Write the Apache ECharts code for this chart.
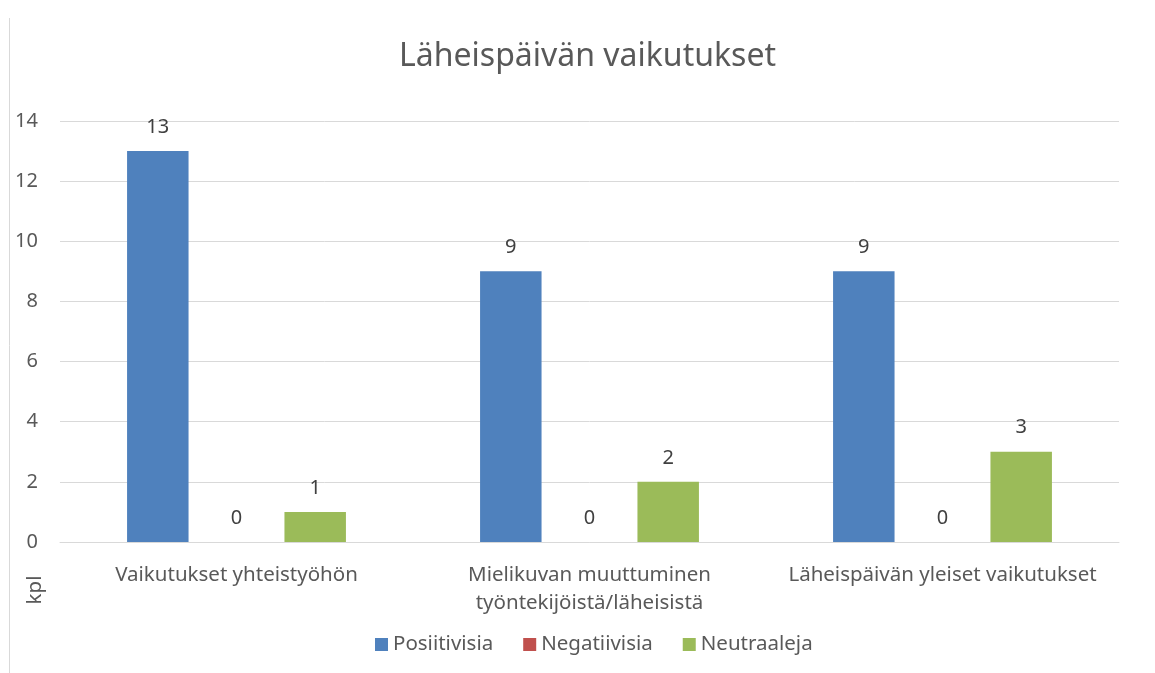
<!DOCTYPE html>
<html>
<head>
<meta charset="utf-8">
<script src="https://cdn.jsdelivr.net/npm/echarts@6/dist/echarts.min.js"></script>
<style>
  html, body { margin: 0; padding: 0; background: #fff; }
  #main { width: 1155px; height: 673px; }
</style>
</head>
<body>
<div id="main"></div>
<script>
// data
const categories = [
  'Vaikutukset yhteistyöhön',
  'Mielikuvan muuttuminen\ntyöntekijöistä/läheisistä',
  'Läheispäivän yleiset vaikutukset'
]
const positiivisia = [13, 9, 9]
const negatiivisia = [0, 0, 0]
const neutraaleja = [1, 2, 3]
const yTicks = { min: 0, max: 14, interval: 2 }

const font = '"Noto Sans", "Open Sans", sans-serif'
const label = {
  show: true,
  position: 'top',
  distance: 14,
  color: '#404040',
  fontSize: 20,
  fontFamily: font
}

const chart = echarts.init(document.getElementById('main'))
chart.setOption({
  animation: false,
  title: {
    text: 'Läheispäivän vaikutukset',
    left: 394,
    top: 36,
    textStyle: { color: '#595959', fontSize: 32, fontWeight: 'normal', fontFamily: font }
  },
  legend: {
    bottom: 13,
    left: 370,
    icon: 'rect',
    itemWidth: 13,
    itemHeight: 13,
    itemGap: 30,
    textStyle: { color: '#595959', fontSize: 20.5, fontFamily: font }
  },
  grid: { left: 60, right: 36, top: 121, bottom: 131 },
  xAxis: {
    type: 'category',
    data: categories,
    axisLine: { lineStyle: { color: '#d9d9d9', width: 1 } },
    axisTick: { show: false },
    axisLabel: { color: '#595959', fontSize: 20.5, fontFamily: font, margin: 19, lineHeight: 28, interval: 0 }
  },
  yAxis: {
    type: 'value',
    min: yTicks.min,
    max: yTicks.max,
    interval: yTicks.interval,
    axisLine: { show: false },
    axisTick: { show: false },
    splitLine: { lineStyle: { color: '#d9d9d9', width: 1 } },
    axisLabel: { color: '#595959', fontSize: 20, fontFamily: font, margin: 22, align: 'right' }
  },
  graphic: [
    {
      type: 'line',
      shape: { x1: 9.5, y1: 18, x2: 9.5, y2: 673 },
      style: { stroke: '#d9d9d9', lineWidth: 1 }
    },
    {
      type: 'text',
      x: 35,
      y: 590,
      rotation: Math.PI / 2,
      style: {
        text: 'kpl',
        fill: '#595959',
        fontSize: 20.5,
        fontFamily: font,
        textAlign: 'center',
        textVerticalAlign: 'middle'
      }
    }
  ],
  series: [
    { name: 'Posiitivisia', type: 'bar', data: positiivisia, itemStyle: { color: '#4F81BD' },
      barGap: '28%', barCategoryGap: '38%', label: label },
    { name: 'Negatiivisia', type: 'bar', data: negatiivisia, itemStyle: { color: '#C0504D' }, label: label },
    { name: 'Neutraaleja', type: 'bar', data: neutraaleja, itemStyle: { color: '#9BBB59' }, label: label }
  ]
})
</script>
</body>
</html>
